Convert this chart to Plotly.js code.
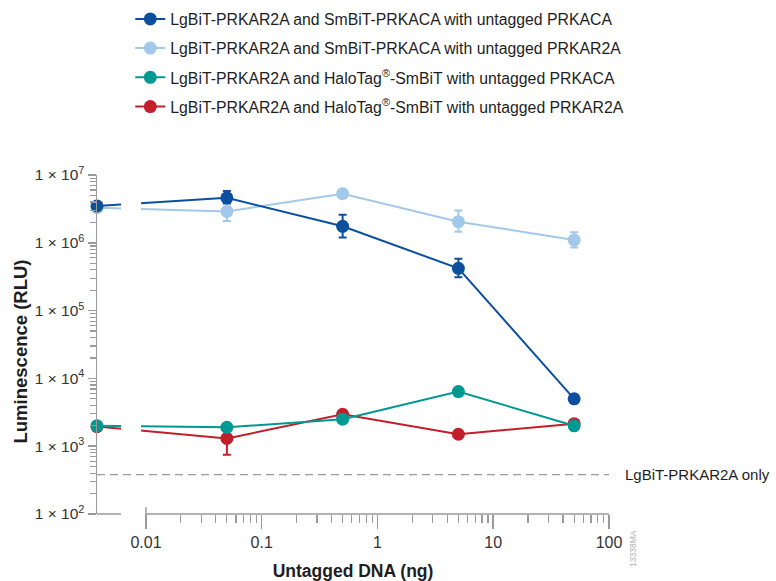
<!DOCTYPE html>
<html>
<head>
<meta charset="utf-8">
<script src="https://cdn.plot.ly/plotly-3.0.1.min.js"></script>
<style>
  html, body { margin: 0; padding: 0; background: #fff; }
  #chart { width: 776px; height: 581px; }
</style>
</head>
<body>
<div id="chart"></div>
<script>
// Untagged DNA amounts (ng); 0 ng sits on the broken left part of the axis
const doses = [0, 0.05, 0.5, 5, 50];

const seriesNames = [
  'LgBiT-PRKAR2A and SmBiT-PRKACA with untagged PRKACA',
  'LgBiT-PRKAR2A and SmBiT-PRKACA with untagged PRKAR2A',
  'LgBiT-PRKAR2A and HaloTag<sup>®</sup>-SmBiT with untagged PRKACA',
  'LgBiT-PRKAR2A and HaloTag<sup>®</sup>-SmBiT with untagged PRKAR2A'
];

// Mean luminescence (RLU)
const smbitPrkaca   = [3.5e6, 4.6e6, 1.75e6, 4.2e5, 5.0e3];
const smbitPrkar2a  = [3.3e6, 2.9e6, 5.3e6, 2.05e6, 1.1e6];
const haloPrkaca    = [2.0e3, 1.9e3, 2.5e3, 6.4e3, 2.0e3];
const haloPrkar2a   = [1.95e3, 1.3e3, 2.95e3, 1.5e3, 2.15e3];

// Error bars (upper / lower)
const smbitPrkacaErrUp    = [2.0e5, 1.2e6, 0.85e6, 1.6e5, 5.0e2];
const smbitPrkacaErrDown  = [2.0e5, 0.8e6, 0.55e6, 1.1e5, 5.0e2];
const smbitPrkar2aErrUp   = [2.0e5, 0.5e6, 0.6e6, 0.95e6, 0.33e6];
const smbitPrkar2aErrDown = [2.0e5, 0.8e6, 0.5e6, 0.6e6, 0.25e6];
const haloPrkacaErrUp     = [1.0e2, 1.5e2, 2.0e2, 5.0e2, 1.0e2];
const haloPrkacaErrDown   = [1.0e2, 1.5e2, 2.0e2, 5.0e2, 1.0e2];
const haloPrkar2aErrUp    = [1.0e2, 0.4e3, 2.0e2, 1.0e2, 1.5e2];
const haloPrkar2aErrDown  = [1.0e2, 0.55e3, 2.0e2, 1.0e2, 1.5e2];

// Background: LgBiT-PRKAR2A alone
const lgbitOnly = 380;

const xTickVals = [0.01, 0.1, 1, 10, 100];
const xTickText = ['0.01', '0.1', '1', '10', '100'];
const yTickVals = [1e2, 1e3, 1e4, 1e5, 1e6, 1e7];
const yTickText = ['1 × 10<sup>2</sup>', '1 × 10<sup>3</sup>', '1 × 10<sup>4</sup>',
                   '1 × 10<sup>5</sup>', '1 × 10<sup>6</sup>', '1 × 10<sup>7</sup>'];

const colors = ['#0b4f9e', '#a2c8ea', '#009892', '#c21f2b'];

// Axis geometry: the log axis runs 0.01–100, with a short broken stub on the left for 0 ng
const BREAK_DECADES = 0.423;
const xRange = [-2 - BREAK_DECADES, 2];
const zeroPos = Math.pow(10, xRange[0]);
const xPlot = doses.map(d => d === 0 ? zeroPos : d);
const toPaperX = v => (Math.log10(v) - xRange[0]) / (xRange[1] - xRange[0]);
const yRange = [2, 7];
const toPaperY = v => (Math.log10(v) - yRange[0]) / (yRange[1] - yRange[0]);

function minorTicks(lo, hi) {
  const out = [];
  for (let e = lo; e < hi; e++) {
    for (let m = 2; m <= 9; m++) out.push(m * Math.pow(10, e));
  }
  return out;
}

const FONT = '"Liberation Sans", Arial, sans-serif';
const AXIS_GREY = '#9a9a9a';

function makeTrace(name, ys, up, down, color, rank) {
  return {
    x: xPlot, y: ys, name: name, legendgroup: 'g' + rank, legendrank: rank,
    type: 'scatter', mode: 'lines+markers',
    line: { color: color, width: 2 },
    marker: { color: color, size: 13 },
    error_y: { type: 'data', symmetric: false, array: up, arrayminus: down,
               color: color, thickness: 2, width: 4 },
    cliponaxis: false
  };
}

// Drawing order puts the SmBiT-PRKACA / PRKACA series on top; legendrank keeps the key order
const traces = [
  makeTrace(seriesNames[3], haloPrkar2a, haloPrkar2aErrUp, haloPrkar2aErrDown, colors[3], 4),
  makeTrace(seriesNames[2], haloPrkaca, haloPrkacaErrUp, haloPrkacaErrDown, colors[2], 3),
  makeTrace(seriesNames[1], smbitPrkar2a, smbitPrkar2aErrUp, smbitPrkar2aErrDown, colors[1], 2),
  makeTrace(seriesNames[0], smbitPrkaca, smbitPrkacaErrUp, smbitPrkacaErrDown, colors[0], 1)
];

const gapL = 0.047, gapR = 0.086;
const shapes = [
  // gap in the data lines at the axis break
  { type: 'rect', xref: 'paper', yref: 'paper', x0: gapL, x1: gapR, y0: 0.2, y1: 1.02,
    fillcolor: '#ffffff', line: { width: 0 }, layer: 'above' },
  // x axis: stub under 0 ng, then the log part
  { type: 'line', xref: 'paper', yref: 'paper', x0: 0, x1: gapL, y0: 0, y1: 0,
    line: { color: AXIS_GREY, width: 1.5 } },
  { type: 'line', xref: 'paper', yref: 'paper', x0: toPaperX(0.01), x1: 1, y0: 0, y1: 0,
    line: { color: AXIS_GREY, width: 1.5 } },
  { type: 'line', xref: 'paper', yref: 'paper', x0: toPaperX(0.01), x1: toPaperX(0.01),
    y0: -0.03, y1: 0.02, line: { color: AXIS_GREY, width: 1.5 } },
  // LgBiT-PRKAR2A only background level
  { type: 'line', xref: 'paper', yref: 'paper', x0: 0, x1: 1,
    y0: toPaperY(lgbitOnly), y1: toPaperY(lgbitOnly),
    line: { color: AXIS_GREY, width: 1.2, dash: '8px,5px' } }
];

const layout = {
  width: 776, height: 581,
  margin: { l: 97, r: 167, t: 175, b: 67, autoexpand: false },
  paper_bgcolor: '#ffffff', plot_bgcolor: '#ffffff',
  font: { family: FONT, color: '#222222', size: 16 },
  showlegend: true,
  legend: {
    x: 0.065, xanchor: 'left', y: 1.51, yanchor: 'top',
    traceorder: 'grouped',
    font: { family: FONT, size: 15.8, color: '#1e1e1e' },
    bgcolor: 'rgba(0,0,0,0)', borderwidth: 0,
    tracegroupgap: 5.7
  },
  xaxis: {
    type: 'log', range: xRange,
    showline: false, showgrid: false, zeroline: false,
    tickmode: 'array', tickvals: xTickVals, ticktext: xTickText,
    ticks: 'outside', ticklen: 14, tickwidth: 1.5, tickcolor: AXIS_GREY,
    tickfont: { family: FONT, size: 16, color: '#333333' },
    minor: { tickmode: 'array', tickvals: minorTicks(-2, 2), ticks: 'outside',
             ticklen: 8, tickwidth: 1.2, tickcolor: AXIS_GREY, showgrid: false },
    title: { text: '<b>Untagged DNA (ng)</b>', standoff: 14,
             font: { family: FONT, size: 17.5, color: '#1e1e1e' } }
  },
  yaxis: {
    type: 'log', range: yRange,
    showline: true, linecolor: AXIS_GREY, linewidth: 1.5,
    showgrid: false, zeroline: false,
    tickmode: 'array', tickvals: yTickVals, ticktext: yTickText,
    ticks: 'outside', ticklen: 8, tickwidth: 1.5, tickcolor: AXIS_GREY,
    tickfont: { family: FONT, size: 15.5, color: '#333333' },
    minor: { tickmode: 'array', tickvals: minorTicks(2, 7), ticks: 'outside',
             ticklen: 6, tickwidth: 1.2, tickcolor: AXIS_GREY, showgrid: false }
  },
  shapes: shapes,
  annotations: [
    { xref: 'paper', yref: 'paper', x: -0.15, y: 0.48,
      xanchor: 'center', yanchor: 'middle', showarrow: false, textangle: -90,
      text: '<b>Luminescence (RLU)</b>',
      font: { family: FONT, size: 18.5, color: '#1e1e1e' } },
    { xref: 'paper', yref: 'paper', x: 1.027, y: toPaperY(lgbitOnly),
      xanchor: 'left', yanchor: 'middle', showarrow: false,
      text: 'LgBiT-PRKAR2A only',
      font: { family: FONT, size: 15, color: '#1e1e1e' } },
    { xref: 'paper', yref: 'paper', x: 1.047, y: -0.103,
      xanchor: 'center', yanchor: 'middle', showarrow: false, textangle: -90,
      text: '13338MA', font: { family: FONT, size: 8.5, color: '#b0b0b0' } }
  ]
};

Plotly.newPlot('chart', traces, layout, { displayModeBar: false, staticPlot: true });
</script>
</body>
</html>
